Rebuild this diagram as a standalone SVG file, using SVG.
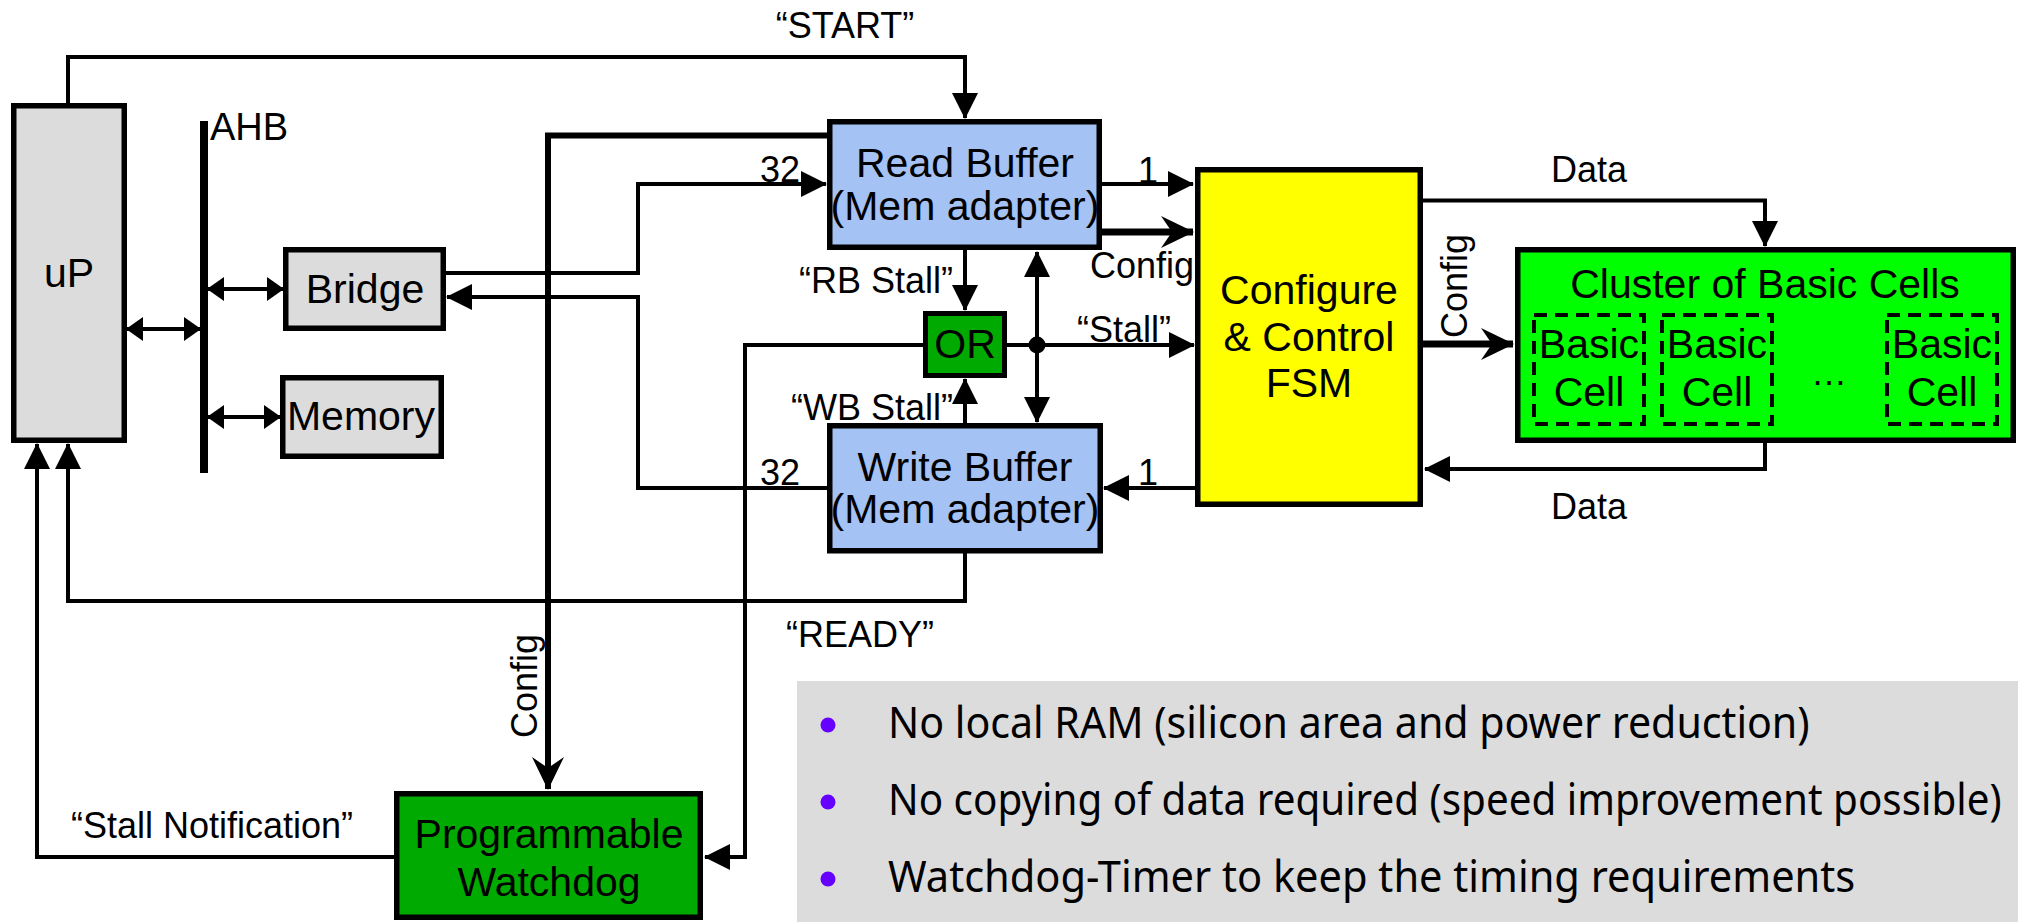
<svg xmlns="http://www.w3.org/2000/svg" width="2018" height="922" viewBox="0 0 2018 922">
<style>
.box{stroke:#000;stroke-width:5.5}
.gray{fill:#dcdcdc}
.blue{fill:#a4c2f4}
.dgreen{fill:#00aa00}
.lgreen{fill:#00ff00}
.yellow{fill:#ffff00}
.ln{fill:none;stroke:#000;stroke-width:4}
.thick{fill:none;stroke:#000;stroke-width:7}
.dash{fill:none;stroke:#000;stroke-width:4;stroke-dasharray:13 8}
text{font-family:"Liberation Sans",Arial,sans-serif;fill:#000}
.nl{font-size:41px;text-anchor:middle}
.lb{font-size:36px}
.mid{text-anchor:middle}
.end{text-anchor:end}
.bul{font-family:"Noto Sans","Open Sans",sans-serif;font-size:43px}
</style>
<defs>
<marker id="a" markerUnits="userSpaceOnUse" markerWidth="26" markerHeight="26" viewBox="0 0 26 26" refX="25" refY="13" orient="auto-start-reverse"><path d="M0,0 L26,13 L0,26 Z" fill="#000"/></marker>
<marker id="s" markerUnits="userSpaceOnUse" markerWidth="17" markerHeight="24" viewBox="0 0 17 24" refX="16" refY="12" orient="auto-start-reverse"><path d="M0,0 L17,12 L0,24 Z" fill="#000"/></marker>
<marker id="n" markerUnits="userSpaceOnUse" markerWidth="33" markerHeight="32" viewBox="0 0 33 32" refX="32" refY="16" orient="auto"><path d="M0,0 L33,16 L0,32 L11,16 Z" fill="#000"/></marker>
</defs>
<rect width="2018" height="922" fill="#fff"/>
<rect x="797" y="681" width="1221" height="241" fill="#dcdcdc"/>

<g id="connectors">
<path class="ln" d="M68,104 V57 H965 V118" marker-end="url(#a)"/>
<line x1="204" y1="121" x2="204" y2="473" stroke="#000" stroke-width="8"/>
<path class="ln" d="M127,329 H200" marker-start="url(#s)" marker-end="url(#s)"/>
<path class="ln" d="M208,289 H283" marker-start="url(#s)" marker-end="url(#s)"/>
<path class="ln" d="M208,417 H280" marker-start="url(#s)" marker-end="url(#s)"/>
<path class="ln" d="M446,273 H638 V184 H826" marker-end="url(#a)"/>
<path class="ln" d="M829,488 H638 V297 H447" marker-end="url(#a)"/>
<path class="ln" d="M1100,184 H1193" marker-end="url(#a)"/>
<path class="thick" d="M1100,232 H1193" marker-end="url(#n)"/>
<path fill="none" stroke="#000" stroke-width="6" d="M830,135.5 H548 V789" marker-end="url(#n)"/>
<path class="ln" d="M965,248 V310" marker-end="url(#a)"/>
<path class="ln" d="M965,424 V379" marker-end="url(#a)"/>
<path class="ln" d="M1037,252 V422" marker-start="url(#a)" marker-end="url(#a)"/>
<path class="ln" d="M1005,345 H1194" marker-end="url(#a)"/>
<path class="ln" d="M925,345 H745 V857 H705" marker-end="url(#a)"/>
<circle cx="1037" cy="345" r="8.5" fill="#000"/>
<path class="ln" d="M1197,488 H1104" marker-end="url(#a)"/>
<path class="ln" d="M1421,200.5 H1765 V246" marker-end="url(#a)"/>
<path class="thick" d="M1421,344 H1513" marker-end="url(#n)"/>
<path class="ln" d="M1765,441 V469 H1425" marker-end="url(#a)"/>
<path class="ln" d="M965,551 V601 H68 V444" marker-end="url(#a)"/>
<path class="ln" d="M396,857 H37 V444" marker-end="url(#a)"/>
</g>

<g id="labels">
<text class="lb mid" x="845" y="38">“START”</text>
<text font-size="38" x="210" y="140">AHB</text>
<text class="lb" x="760" y="182">32</text>
<text class="lb" x="760" y="485">32</text>
<text class="lb mid" x="1148" y="183">1</text>
<text class="lb mid" x="1148" y="485">1</text>
<text class="lb" x="1090" y="278">Config</text>
<text class="lb end" x="953" y="293">“RB Stall”</text>
<text class="lb end" x="953" y="420">“WB Stall”</text>
<text class="lb" x="1077" y="342">“Stall”</text>
<text class="lb mid" x="1589" y="182">Data</text>
<text class="lb mid" x="1589" y="519">Data</text>
<text class="lb" transform="translate(1467,338) rotate(-90)">Config</text>
<text class="lb" transform="translate(537,738) rotate(-90)">Config</text>
<text class="lb mid" x="860" y="647">“READY”</text>
<text class="lb mid" x="212" y="838">“Stall Notification”</text>
</g>

<g id="uP">
<rect class="box gray" x="13.75" y="105.75" width="110.5" height="334.5"/>
<text class="nl" x="69" y="287">uP</text>
</g>
<g id="bridge">
<rect class="box gray" x="285.75" y="249.75" width="157.5" height="78.5"/>
<text class="nl" x="365" y="303">Bridge</text>
</g>
<g id="memory">
<rect class="box gray" x="282.75" y="377.75" width="158.5" height="78.5"/>
<text class="nl" x="361" y="430">Memory</text>
</g>
<g id="read-buffer">
<rect class="box blue" x="829.75" y="121.75" width="269.5" height="125.5"/>
<text class="nl" x="965" y="177">Read Buffer</text>
<text class="nl" x="965" y="220">(Mem adapter)</text>
</g>
<g id="write-buffer">
<rect class="box blue" x="829.75" y="425.75" width="270.5" height="125"/>
<text class="nl" x="965" y="481">Write Buffer</text>
<text class="nl" x="965" y="523">(Mem adapter)</text>
</g>
<g id="or-gate">
<rect class="dgreen" stroke="#000" stroke-width="5" x="925.5" y="313.5" width="79" height="62"/>
<text class="nl" x="965" y="358">OR</text>
</g>
<g id="fsm">
<rect class="box yellow" x="1197.75" y="169.75" width="222.5" height="334.5"/>
<text class="nl" x="1309" y="304">Configure</text>
<text class="nl" x="1309" y="351">&amp; Control</text>
<text class="nl" x="1309" y="397">FSM</text>
</g>
<g id="cluster">
<rect class="box lgreen" x="1517.75" y="249.75" width="495.5" height="190.5"/>
<text class="nl" x="1765" y="298">Cluster of Basic Cells</text>
<rect class="dash" x="1534" y="315" width="110" height="109"/>
<rect class="dash" x="1662" y="315" width="110" height="109"/>
<rect class="dash" x="1887" y="315" width="110" height="109"/>
<text class="nl" x="1589" y="358">Basic</text>
<text class="nl" x="1589" y="406">Cell</text>
<text class="nl" x="1717" y="358">Basic</text>
<text class="nl" x="1717" y="406">Cell</text>
<text class="nl" x="1942" y="358">Basic</text>
<text class="nl" x="1942" y="406">Cell</text>
<text class="lb mid" x="1829" y="385">…</text>
</g>
<g id="watchdog">
<rect class="box dgreen" x="396.75" y="793.75" width="303.5" height="123.5"/>
<text class="nl" x="549" y="848">Programmable</text>
<text class="nl" x="549" y="896">Watchdog</text>
</g>

<g id="notes">
<circle cx="828" cy="725" r="7.5" fill="#6600ff"/>
<circle cx="828" cy="802" r="7.5" fill="#6600ff"/>
<circle cx="828" cy="879" r="7.5" fill="#6600ff"/>
<text class="bul" transform="matrix(0.8,0,0,1,888,738)" textLength="1152" lengthAdjust="spacingAndGlyphs">No local RAM (silicon area and power reduction)</text>
<text class="bul" transform="matrix(0.8,0,0,1,888,815)" textLength="1392" lengthAdjust="spacingAndGlyphs">No copying of data required (speed improvement possible)</text>
<text class="bul" transform="matrix(0.8,0,0,1,888,892)" textLength="1209" lengthAdjust="spacingAndGlyphs">Watchdog-Timer to keep the timing requirements</text>
</g>
</svg>
